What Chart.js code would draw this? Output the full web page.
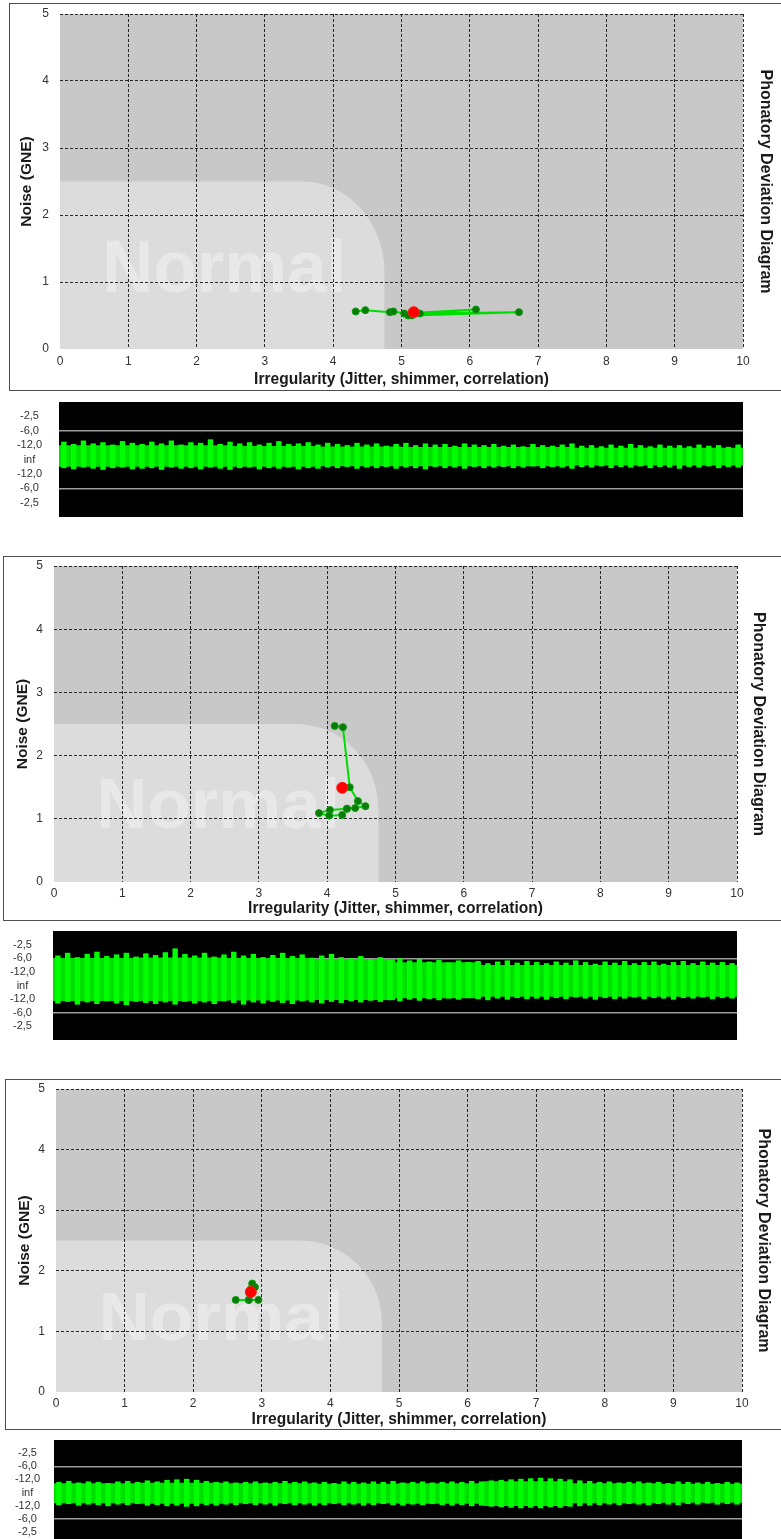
<!DOCTYPE html>
<html>
<head>
<meta charset="utf-8">
<title>Phonatory Deviation Diagram</title>
<script src="https://cdn.jsdelivr.net/npm/chart.js@4.4.1/dist/chart.umd.min.js"></script>
<style>
  html, body { margin: 0; padding: 0; background: #fff; }
  body { position: relative; width: 781px; height: 1539px; overflow: hidden; }
  .frame { position: absolute; border: 1px solid #4d4d4d; border-right: none; width: 800px; box-sizing: border-box; }
  canvas { position: absolute; left: 0; }
</style>
</head>
<body>
  <div class="frame" style="left:9px; top:3px; height:388px;"></div>
  <div class="frame" style="left:3px; top:556px; height:365px;"></div>
  <div class="frame" style="left:5px; top:1079px; height:351px;"></div>

  <canvas id="pdd1" width="781" height="387" style="top:3px"></canvas>
  <canvas id="wave1" width="781" height="115" style="top:402px"></canvas>
  <canvas id="pdd2" width="781" height="364" style="top:556px"></canvas>
  <canvas id="wave2" width="781" height="109" style="top:931px"></canvas>
  <canvas id="pdd3" width="781" height="350" style="top:1079px"></canvas>
  <canvas id="wave3" width="781" height="105" style="top:1440px"></canvas>

<script>
"use strict";

// PDD tracks (irregularity, noise)
const track1X = [4.33, 4.47, 4.83, 4.88, 5.04, 6.09, 5.27, 6.72, 5.15, 5.10];
const track1Y = [0.56, 0.58, 0.55, 0.56, 0.53, 0.59, 0.53, 0.55, 0.50, 0.50];
const mean1 = [5.18, 0.55];

const track2X = [4.11, 4.23, 4.33, 4.45, 4.56, 4.41, 4.29, 4.04, 3.88, 4.03, 4.22, 4.29];
const track2Y = [2.47, 2.45, 1.50, 1.28, 1.20, 1.17, 1.16, 1.14, 1.09, 1.05, 1.06, 1.16];
const mean2 = [4.22, 1.49];

const track3X = [2.62, 2.81, 2.95, 2.81, 2.84, 2.86, 2.90];
const track3Y = [1.52, 1.52, 1.52, 1.52, 1.70, 1.79, 1.73];
const mean3 = [2.84, 1.65];

// "Normal" zone: right edge, top edge, corner radii (axis units)
const normalZone = [4.75, 2.5];
const normalCorner = [1.2, 1.35];

// waveform strips: amplitude scale with dB tick labels
const dbTicks = [0.75, 0.5, 0.25, 0, -0.25, -0.5, -0.75];
const dbLabels = ["-2,5", "-6,0", "-12,0", "inf", "-12,0", "-6,0", "-2,5"];

// envelope peaks of the green signal, left to right
const wave1Top = [0.31, 0.27, 0.33, 0.28, 0.30, 0.26, 0.32, 0.29, 0.27, 0.31, 0.28, 0.33, 0.26, 0.30, 0.29, 0.35, 0.27, 0.31, 0.28, 0.30,
  0.26, 0.29, 0.32, 0.27, 0.28, 0.30, 0.26, 0.29, 0.27, 0.25, 0.29, 0.26, 0.28, 0.24, 0.27, 0.29, 0.25, 0.28, 0.26, 0.27,
  0.24, 0.28, 0.26, 0.25, 0.27, 0.24, 0.26, 0.23, 0.27, 0.25, 0.24, 0.26, 0.28, 0.24, 0.25, 0.23, 0.26, 0.24, 0.27, 0.25,
  0.23, 0.26, 0.24, 0.25, 0.23, 0.26, 0.24, 0.25, 0.22, 0.26];
const wave1Bot = [-0.15, -0.17, -0.14, -0.16, -0.18, -0.15, -0.14, -0.17, -0.16, -0.15, -0.18, -0.14, -0.16, -0.15, -0.17, -0.14, -0.16, -0.18, -0.15, -0.14,
  -0.17, -0.15, -0.16, -0.14, -0.17, -0.15, -0.16, -0.14, -0.15, -0.13, -0.16, -0.14, -0.15, -0.13, -0.16, -0.14, -0.15, -0.17, -0.13, -0.15,
  -0.14, -0.16, -0.13, -0.15, -0.14, -0.13, -0.15, -0.14, -0.12, -0.15, -0.13, -0.14, -0.16, -0.13, -0.14, -0.12, -0.15, -0.13, -0.14, -0.12,
  -0.15, -0.13, -0.14, -0.16, -0.13, -0.14, -0.12, -0.15, -0.13, -0.14];
const core1Top = [0.24, 0.24, 0.23, 0.22, 0.21, 0.21, 0.20, 0.20];
const core1Bot = [-0.12, -0.12, -0.12, -0.11, -0.11, -0.11, -0.10, -0.10];

const wave2Top = [0.55, 0.60, 0.52, 0.58, 0.62, 0.54, 0.57, 0.60, 0.53, 0.59, 0.56, 0.61, 0.68, 0.58, 0.55, 0.60, 0.53, 0.57, 0.62, 0.55,
  0.58, 0.52, 0.56, 0.60, 0.54, 0.57, 0.51, 0.55, 0.58, 0.52, 0.50, 0.54, 0.48, 0.52, 0.47, 0.50, 0.46, 0.49, 0.44, 0.47,
  0.42, 0.46, 0.43, 0.45, 0.41, 0.44, 0.46, 0.42, 0.45, 0.43, 0.41, 0.44, 0.42, 0.46, 0.43, 0.40, 0.44, 0.42, 0.45, 0.41,
  0.43, 0.44, 0.40, 0.43, 0.45, 0.41, 0.44, 0.42, 0.43, 0.41];
const wave2Bot = [-0.33, -0.30, -0.35, -0.31, -0.34, -0.29, -0.33, -0.36, -0.30, -0.32, -0.34, -0.31, -0.35, -0.30, -0.33, -0.31, -0.34, -0.29, -0.32, -0.35,
  -0.31, -0.33, -0.30, -0.32, -0.34, -0.29, -0.31, -0.33, -0.30, -0.32, -0.29, -0.31, -0.28, -0.30, -0.27, -0.29, -0.26, -0.28, -0.25, -0.27,
  -0.24, -0.26, -0.23, -0.25, -0.27, -0.24, -0.26, -0.23, -0.25, -0.24, -0.26, -0.23, -0.25, -0.22, -0.24, -0.26, -0.23, -0.25, -0.24, -0.22,
  -0.25, -0.23, -0.24, -0.26, -0.23, -0.24, -0.22, -0.25, -0.23, -0.24];
const core2Top = [0.50, 0.51, 0.50, 0.48, 0.42, 0.37, 0.37, 0.37];
const core2Bot = [-0.28, -0.28, -0.27, -0.26, -0.23, -0.20, -0.20, -0.20];

const wave3Top = [0.20, 0.22, 0.19, 0.21, 0.20, 0.18, 0.21, 0.22, 0.20, 0.23, 0.21, 0.24, 0.25, 0.26, 0.24, 0.22, 0.20, 0.21, 0.19, 0.20,
  0.21, 0.19, 0.20, 0.22, 0.20, 0.21, 0.19, 0.20, 0.18, 0.21, 0.20, 0.19, 0.21, 0.20, 0.22, 0.19, 0.20, 0.21, 0.19, 0.20,
  0.21, 0.20, 0.22, 0.21, 0.23, 0.24, 0.25, 0.26, 0.27, 0.28, 0.27, 0.26, 0.25, 0.23, 0.22, 0.20, 0.21, 0.19, 0.20, 0.21,
  0.19, 0.20, 0.18, 0.21, 0.20, 0.19, 0.20, 0.18, 0.20, 0.19];
const wave3Bot = [-0.24, -0.22, -0.25, -0.23, -0.24, -0.26, -0.23, -0.24, -0.22, -0.25, -0.24, -0.26, -0.25, -0.27, -0.26, -0.24, -0.25, -0.23, -0.24, -0.22,
  -0.24, -0.23, -0.25, -0.22, -0.24, -0.23, -0.25, -0.24, -0.22, -0.24, -0.23, -0.25, -0.24, -0.22, -0.24, -0.25, -0.23, -0.24, -0.22, -0.24,
  -0.25, -0.24, -0.26, -0.25, -0.27, -0.28, -0.29, -0.30, -0.29, -0.30, -0.28, -0.29, -0.27, -0.26, -0.25, -0.24, -0.23, -0.24, -0.22, -0.23,
  -0.24, -0.22, -0.23, -0.24, -0.22, -0.23, -0.21, -0.23, -0.22, -0.23];
const core3Top = [0.17, 0.18, 0.17, 0.16, 0.17, 0.21, 0.17, 0.16];
const core3Bot = [-0.20, -0.21, -0.20, -0.20, -0.21, -0.25, -0.20, -0.19];

const X_TITLE = "Irregularity (Jitter, shimmer, correlation)";
const Y_TITLE = "Noise (GNE)";
const R_TITLE = "Phonatory Deviation Diagram";

(function() {
  window.addEventListener("load", init);

  const SANS = "'Liberation Sans', Arial, sans-serif";

  function init() {
    Chart.defaults.font.family = SANS;

    pdd("pdd1", track1X, track1Y, mean1,
      {padTop: 11, yW: 60, rW: 38, xH: 41, yTickPad: 11, yTitlePad: 17, rTitlePad: 6, xTickPad: 5, xTitleY: 376});
    pdd("pdd2", track2X, track2Y, mean2,
      {padTop: 10, yW: 54, rW: 44, xH: 38, yTickPad: 11, yTitlePad: 13, rTitlePad: 13, xTickPad: 4, xTitleY: 352});
    pdd("pdd3", track3X, track3Y, mean3,
      {padTop: 10, yW: 56, rW: 39, xH: 37, yTickPad: 11, yTitlePad: 15, rTitlePad: 8, xTickPad: 4, xTitleY: 340});

    strip("wave1", wave1Top, wave1Bot, core1Top, core1Bot, {left: 59, right: 743, tickPad: 17});
    strip("wave2", wave2Top, wave2Bot, core2Top, core2Bot, {left: 53, right: 737, tickPad: 18});
    strip("wave3", wave3Top, wave3Bot, core3Top, core3Bot, {left: 54, right: 742, tickPad: 14});
  }

  // grey plot field, light "Normal" zone with rounded corner and its label
  const pddBackground = {
    id: "pddBackground",
    beforeDraw(chart) {
      const {ctx, chartArea: a, scales: {x, y}} = chart;
      ctx.save();
      ctx.fillStyle = "#c8c8c8";
      ctx.fillRect(a.left, a.top, a.width, a.height);

      const x0 = x.getPixelForValue(0);
      const x1 = x.getPixelForValue(normalZone[0]);
      const y0 = y.getPixelForValue(0);
      const y1 = y.getPixelForValue(normalZone[1]);
      const rx = x.getPixelForValue(normalCorner[0]) - x0;
      const ry = y0 - y.getPixelForValue(normalCorner[1]);
      ctx.beginPath();
      ctx.moveTo(x0, y0);
      ctx.lineTo(x0, y1);
      ctx.lineTo(x1 - rx, y1);
      ctx.ellipse(x1 - rx, y1 + ry, rx, ry, 0, -Math.PI / 2, 0);
      ctx.lineTo(x1, y0);
      ctx.closePath();
      ctx.fillStyle = "#dcdcdc";
      ctx.fill();

      ctx.font = "bold 100px " + SANS;
      const w = ctx.measureText("Normal").width;
      const tw = x.getPixelForValue(3.57) - x0;
      const th = y0 - y.getPixelForValue(0.8);
      ctx.translate(x.getPixelForValue(0.62), y.getPixelForValue(0.85));
      ctx.scale(tw / w, th / 71.6);
      ctx.fillStyle = "rgba(255,255,255,0.35)";
      ctx.fillText("Normal", 0, 0);
      ctx.restore();
    }
  };

  const stripBackground = {
    id: "stripBackground",
    beforeDraw(chart) {
      const {ctx, chartArea: a} = chart;
      ctx.save();
      ctx.fillStyle = "#000";
      ctx.fillRect(a.left, a.top, a.width, a.height);
      ctx.restore();
    }
  };

  function noPadding(s) {
    s.paddingTop = 0;
    s.paddingBottom = 0;
    s.paddingLeft = 0;
    s.paddingRight = 0;
  }

  function pdd(canvasId, xs, ys, mean, b) {
    let points = xs.map((v, i) => ({x: v, y: ys[i]}));
    let gridColor = c => (c.tick && c.tick.value === 0) ? "rgba(0,0,0,0)" : "rgba(20,20,20,0.9)";

    // the x title is set in a narrowed bold face, like the original software
    const xTitle = {
      id: "xTitle",
      afterDraw(chart) {
        const {ctx, chartArea: a} = chart;
        ctx.save();
        ctx.font = "bold 17px " + SANS;
        ctx.fillStyle = "#1a1a1a";
        ctx.textAlign = "center";
        ctx.textBaseline = "middle";
        ctx.translate((a.left + a.right) / 2, b.xTitleY);
        ctx.scale(0.915, 1);
        ctx.fillText(X_TITLE, 0, 0);
        ctx.restore();
      }
    };

    return new Chart(id(canvasId), {
      type: "scatter",
      data: {
        datasets: [{
          data: [{x: mean[0], y: mean[1]}],
          pointRadius: 5.5,
          backgroundColor: "#ff0000",
          borderColor: "#ff1a1a",
          borderWidth: 1
        }, {
          data: points,
          showLine: true,
          borderColor: "#00dd00",
          borderWidth: 2,
          pointRadius: 3.5,
          pointBackgroundColor: "#0a7a0a",
          pointBorderColor: "#0a9a0a",
          pointBorderWidth: 1
        }]
      },
      options: {
        animation: false,
        responsive: false,
        layout: {padding: {top: b.padTop, left: 0, right: 0, bottom: 0}},
        plugins: {legend: {display: false}, tooltip: {enabled: false}},
        scales: {
          x: {
            type: "linear", min: 0, max: 10,
            ticks: {stepSize: 1, padding: b.xTickPad, color: "#333", font: {size: 12}},
            grid: {color: gridColor, lineWidth: 1, drawTicks: false},
            border: {display: false, dash: [3, 2]},
            title: {display: false},
            afterFit: s => { s.height = b.xH; noPadding(s); }
          },
          y: {
            type: "linear", position: "left", min: 0, max: 5,
            ticks: {stepSize: 1, padding: b.yTickPad, color: "#333", font: {size: 12}},
            grid: {color: gridColor, lineWidth: 1, drawTicks: false},
            border: {display: false, dash: [3, 2]},
            title: {
              display: true, text: Y_TITLE, color: "#1a1a1a",
              font: {size: 15.5, weight: "bold"},
              padding: {top: b.yTitlePad, bottom: 0}
            },
            afterFit: s => { s.width = b.yW; noPadding(s); }
          },
          yr: {
            type: "linear", axis: "y", position: "right", min: 0, max: 5,
            ticks: {display: false},
            grid: {display: false},
            border: {display: false},
            title: {
              display: true, text: R_TITLE, color: "#1a1a1a",
              font: {size: 16, weight: "bold"},
              padding: {top: b.rTitlePad, bottom: 0}
            },
            afterFit: s => { s.width = b.rW; noPadding(s); }
          }
        }
      },
      plugins: [pddBackground, xTitle]
    });
  }

  function strip(canvasId, top, bot, coreTop, coreBot, b) {
    return new Chart(id(canvasId), {
      type: "bar",
      data: {
        labels: top.map((v, i) => i),
        datasets: [{
          data: top.map((v, i) => [bot[i], v]),
          backgroundColor: "#00ff00",
          barPercentage: 0.55,
          categoryPercentage: 1,
          grouped: false,
          xAxisID: "x"
        }, {
          data: coreTop.map((v, i) => [coreBot[i], v]),
          backgroundColor: "#00e000",
          barPercentage: 1,
          categoryPercentage: 1,
          grouped: false,
          xAxisID: "xc"
        }]
      },
      options: {
        animation: false,
        responsive: false,
        layout: {padding: {top: 0, left: 0, right: 781 - b.right, bottom: 0}},
        plugins: {legend: {display: false}, tooltip: {enabled: false}},
        scales: {
          x: {display: false},
          xc: {type: "category", labels: coreTop.map((v, i) => i), display: false},
          y: {
            min: -1, max: 1,
            afterBuildTicks: s => { s.ticks = dbTicks.map(v => ({value: v})); },
            ticks: {
              autoSkip: false,
              crossAlign: "center",
              padding: b.tickPad,
              color: "#333",
              font: {size: 11},
              callback: (v, i) => dbLabels[i]
            },
            grid: {
              color: c => (c.tick && Math.abs(c.tick.value) === 0.5) ? "#9c9c9c" : "rgba(0,0,0,0)",
              lineWidth: 1.5,
              drawTicks: false
            },
            border: {display: false},
            afterFit: s => { s.width = b.left; noPadding(s); }
          }
        }
      },
      plugins: [stripBackground]
    });
  }

  /**
   * Returns the element that has the ID attribute with the specified value.
   * @param {string} name - element ID.
   * @returns {object} - DOM object associated with id.
   */
  function id(name) {
    return document.getElementById(name);
  }
})();
</script>
</body>
</html>
